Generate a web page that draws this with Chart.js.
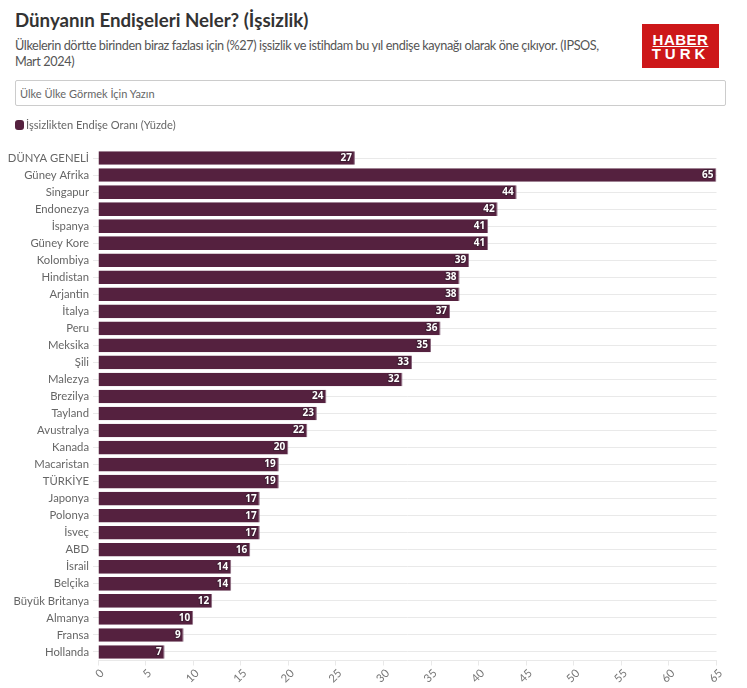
<!DOCTYPE html>
<html lang="tr">
<head>
<meta charset="utf-8">
<title>Dünyanın Endişeleri Neler? (İşsizlik)</title>
<script src="https://cdn.jsdelivr.net/npm/chart.js@4"></script>
<style>
    html, body { margin: 0; padding: 0; background: #fff; overflow: hidden; }
    body { width: 747px; height: 688px; position: relative; font-family: Lato, sans-serif; color: #444; }
    h1 { position: absolute; left: 15px; top: 8px; margin: 0; font-size: 18.7px; line-height: 24px; font-weight: 700; color: #333; }
    p { position: absolute; left: 15px; top: 37px; margin: 0; width: 610px; font-size: 12.7px; line-height: 16px; letter-spacing: -0.4px; color: #555; }
    #search { position: absolute; left: 15px; top: 80px; width: 705px; height: 24px; padding: 0 0 0 4px; border: 1px solid #ccc; border-radius: 2px; font-family: Lato, sans-serif; font-size: 11px; }
    #search::placeholder { color: #666; opacity: 1; }
    #logo { position: absolute; left: 642px; top: 24px; width: 77px; height: 44px; background: #cd1719; color: #fff; font-family: "Liberation Sans", sans-serif; font-weight: 700; text-align: center; }
    #logo div { font-size: 15px; line-height: 14px; }
    #logo .top { margin-top: 9px; letter-spacing: 0.5px; text-decoration: underline; }
    #logo .bottom { letter-spacing: 4px; }
    #legend { position: absolute; left: 15px; top: 118px; font-size: 11.1px; line-height: 14px; color: #666; white-space: nowrap; }
    #legend i { display: inline-block; width: 9px; height: 10px; margin-right: 2px; border-radius: 3px; vertical-align: -1px; }
    #wrap { position: absolute; left: 0; top: 114px; width: 747px; height: 574px; }
</style>
</head>
<body>
<h1>Dünyanın Endişeleri Neler? (İşsizlik)</h1>
<p>Ülkelerin dörtte birinden biraz fazlası için (%27) işsizlik ve istihdam bu yıl endişe kaynağı olarak öne çıkıyor. (IPSOS, Mart 2024)</p>
<div id="logo"><div class="top">HABER</div><div class="bottom">TURK</div></div>
<input id="search" type="text" placeholder="Ülke Ülke Görmek İçin Yazın">
<div id="wrap"><canvas id="chart"></canvas></div>
<div id="legend"></div>
<script>
var countries = ["DÜNYA GENELİ", "Güney Afrika", "Singapur", "Endonezya", "İspanya", "Güney Kore", "Kolombiya", "Hindistan", "Arjantin", "İtalya", "Peru", "Meksika", "Şili", "Malezya", "Brezilya", "Tayland", "Avustralya", "Kanada", "Macaristan", "TÜRKİYE", "Japonya", "Polonya", "İsveç", "ABD", "İsrail", "Belçika", "Büyük Britanya", "Almanya", "Fransa", "Hollanda"];
var values = [27, 65, 44, 42, 41, 41, 39, 38, 38, 37, 36, 35, 33, 32, 24, 23, 22, 20, 19, 19, 17, 17, 17, 16, 14, 14, 12, 10, 9, 7];
var seriesName = "İşsizlikten Endişe Oranı (Yüzde)";
var xTicks = [0, 5, 10, 15, 20, 25, 30, 35, 40, 45, 50, 55, 60, 65];

var barColor = "#55213f";
var gridColor = "#e9e9e9";

// value labels inside the bar end
var barLabels = {
    id: "barLabels",
    afterDatasetsDraw: function (chart) {
        var ctx = chart.ctx;
        ctx.save();
        ctx.font = "700 10px 'Noto Sans', sans-serif";
        ctx.textAlign = "right";
        ctx.textBaseline = "middle";
        chart.getDatasetMeta(0).data.forEach(function (bar, i) {
            ctx.lineWidth = 2;
            ctx.strokeStyle = "rgba(60,30,50,0.8)";
            ctx.strokeText(values[i], bar.x - 3, bar.y);
            ctx.fillStyle = "#fff";
            ctx.fillText(values[i], bar.x - 3, bar.y);
        });
        ctx.restore();
    },
};

Chart.defaults.font.family = "Lato, sans-serif";

new Chart(document.getElementById("chart"), {
    type: "bar",
    data: {
        labels: countries,
        datasets: [
            {
                label: seriesName,
                data: values,
                backgroundColor: barColor,
                borderColor: "#8a6a80",
                borderWidth: { right: 1 },
                borderSkipped: false,
                barPercentage: 0.8,
                categoryPercentage: 1,
                borderRadius: 0,
            },
        ],
    },
    plugins: [barLabels],
    options: {
        indexAxis: "y",
        responsive: true,
        maintainAspectRatio: false,
        animation: false,
        layout: { padding: { left: 0, right: 30.5, top: 35.5, bottom: 0 } },
        plugins: {
            tooltip: { enabled: false },
            legend: { display: false },
        },
        scales: {
            x: {
                type: "linear",
                min: 0,
                max: 65,
                afterBuildTicks: function (axis) {
                    axis.ticks = xTicks.map(function (v) {
                        return { value: v };
                    });
                },
                afterFit: function (axis) {
                    axis.height = 27.5;
                },
                border: { color: gridColor },
                grid: { drawOnChartArea: false, drawTicks: true, tickLength: 5, color: gridColor },
                ticks: { color: "#777", font: { size: 11.3 }, maxRotation: 45, minRotation: 45, padding: 1, labelOffset: 4 },
            },
            y: {
                afterFit: function (axis) {
                    axis.width = 98;
                },
                border: { display: false },
                grid: { offset: false, color: gridColor, tickLength: 5 },
                ticks: { color: "#666", font: { size: 11.3 }, autoSkip: false, padding: 4 },
            },
        },
    },
});

document.getElementById("legend").innerHTML = '<i style="background:' + barColor + '"></i>' + seriesName;
</script>
</body>
</html>
